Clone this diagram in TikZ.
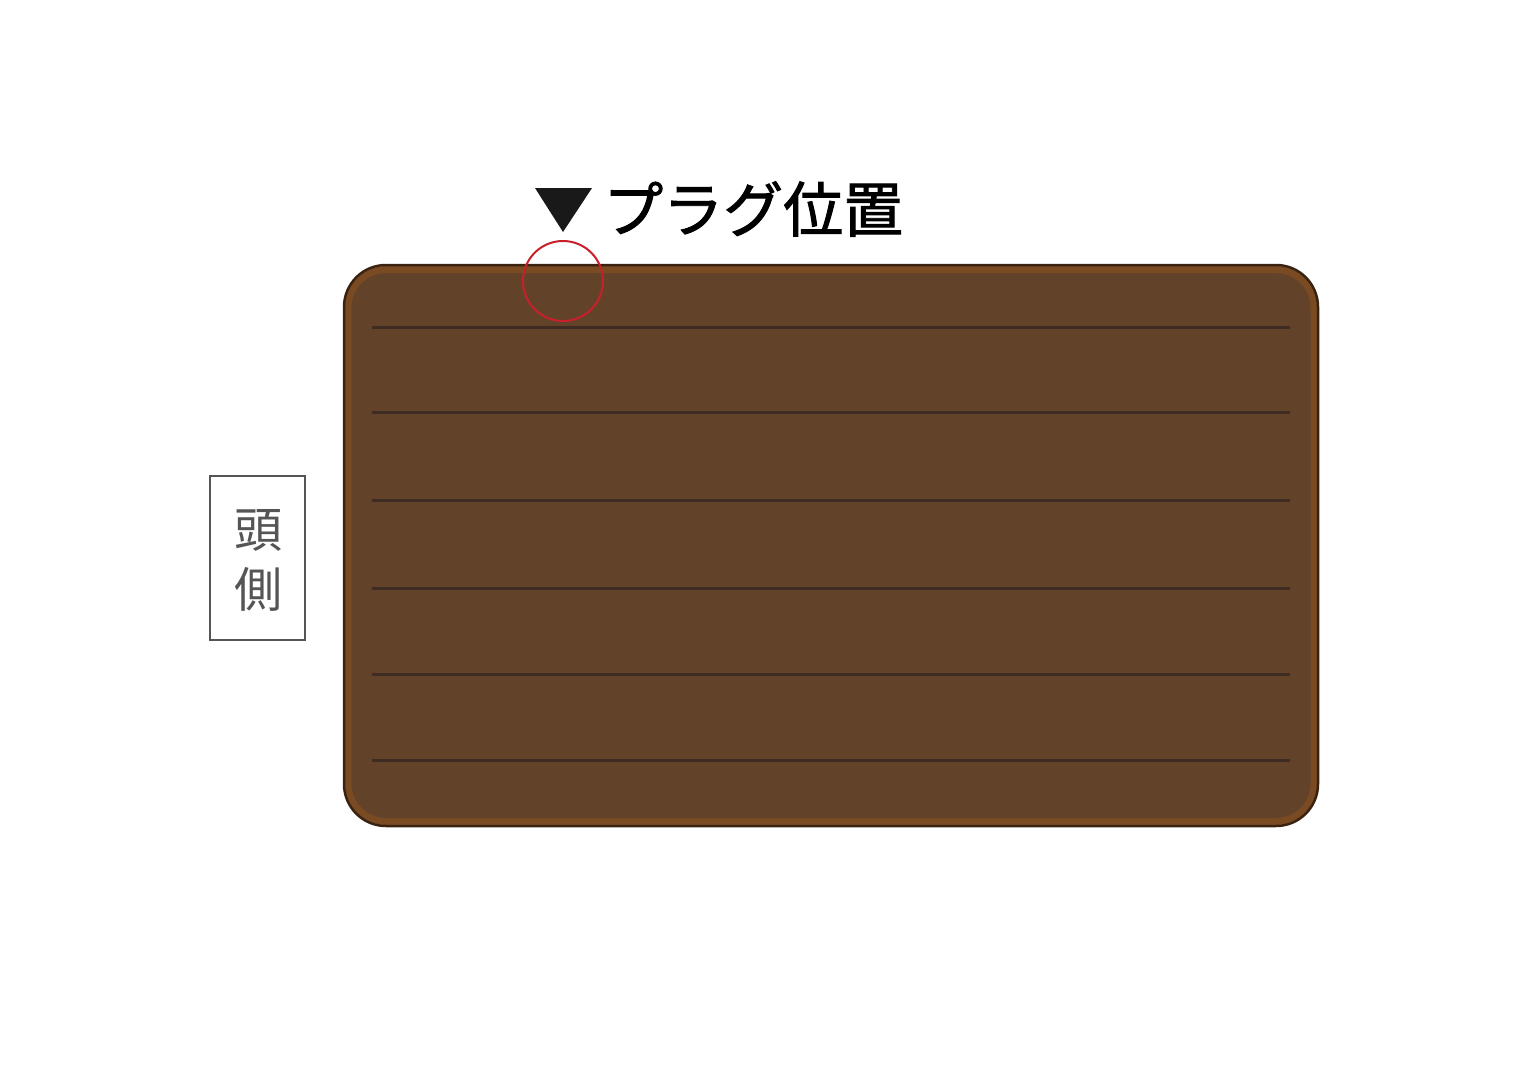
\documentclass[tikz,border=0pt]{standalone}
\usepackage{fontspec}
\newfontfamily\cjk{Noto Sans CJK JP}
\newfontfamily\cjkb[FakeBold=1.5]{Noto Sans CJK JP}
\definecolor{matfill}{HTML}{62432A}
\definecolor{matedge}{HTML}{7A4A22}
\definecolor{matline}{HTML}{3E2C22}
\definecolor{matrim}{HTML}{3A2210}
\definecolor{plugred}{HTML}{C8202A}
\definecolor{headgray}{HTML}{555555}
\tikzset{
  groove/.style={draw=matline, line width=3pt},
  matbody/.style={fill=matfill, draw=matedge, line width=7pt, rounded corners=38pt},
}
\begin{document}
\begin{tikzpicture}[x=1pt,y=-1pt]
\useasboundingbox (0,0) rectangle (1536,1089);
\fill[white] (0,0) rectangle (1536,1089);
% mat
\node[matbody, minimum width=966pt, minimum height=552pt, inner sep=0pt] (mat) at (831,545.5) {};
\draw[matrim, line width=2.5pt, rounded corners=42pt] (344,265) rectangle (1318,826);
\foreach \yy in {327,412,500,588,674,760}{
  \coordinate (gl\yy) at (372,\yy);
  \coordinate (gr\yy) at (1290,\yy);
  \draw[groove] (gl\yy) -- (gr\yy);
}
% plug marker
\node[draw=plugred, line width=2pt, circle, minimum size=80pt, inner sep=0pt] (plug) at (563,281) {};
\fill[black!90] (535,188) -- (592,188) -- (563,232) -- cycle;
\node[anchor=west, inner sep=0pt, font=\cjkb\fontsize{60}{60}\selectfont] (label) at (603,209) {プラグ位置};
% head side
\node[draw=headgray, line width=1.2pt, minimum width=95pt, minimum height=164pt, inner sep=0pt] (head) at (257.5,558) {};
\node[text=headgray, align=center, inner sep=0pt, font=\cjk\fontsize{48}{60}\selectfont] (headtxt) at (258,560) {頭\\側};
\end{tikzpicture}
\end{document}
